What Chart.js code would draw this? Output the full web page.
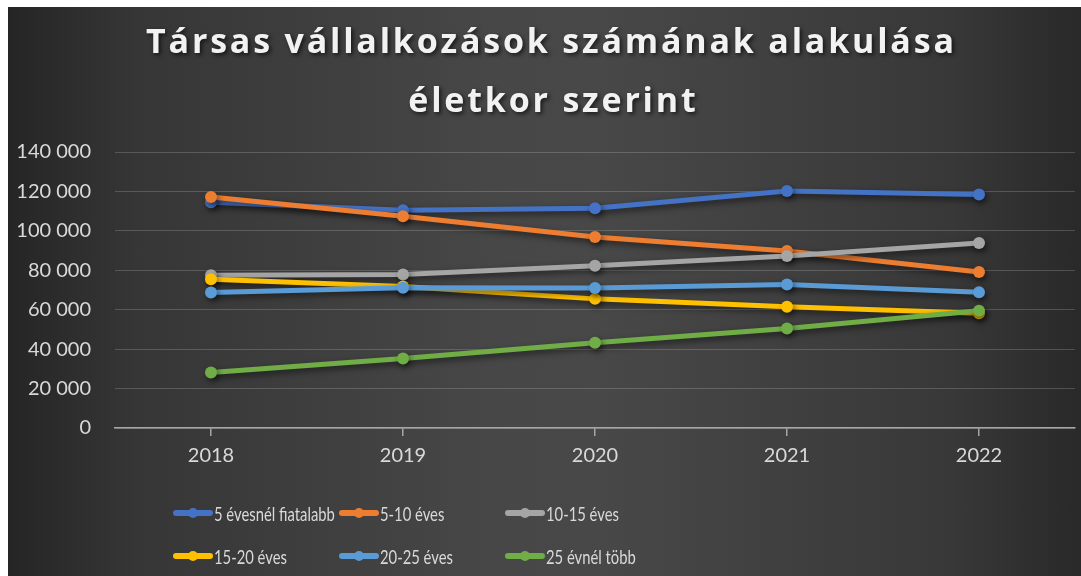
<!DOCTYPE html>
<html>
<head>
<meta charset="utf-8">
<script src="https://cdn.jsdelivr.net/npm/chart.js@4"></script>
<style>
  html, body { margin: 0; padding: 0; background: #fff; }
  #wrap {
    position: absolute; left: 8px; top: 7px; width: 1073px; height: 569px;
    background: linear-gradient(to right, #252525 0%, #363636 12%, #474747 45%, #484848 55%, #383838 88%, #292929 100%);
    overflow: hidden;
  }
  #legend {
    position: absolute; left: 165px; top: 493px;
    display: grid; grid-template-columns: 166px 166px 166px; row-gap: 17px;
    font-family: Lato, "Open Sans", sans-serif; font-size: 20px; color: #d9d9d9;
  }
  .item { display: flex; align-items: center; height: 26px; white-space: nowrap; }
  .mark { position: relative; flex: 0 0 40px; height: 6px; border-radius: 3px; margin-right: 1px; }
  .mark::after {
    content: ""; position: absolute; left: 15px; top: -2px; width: 10px; height: 10px;
    border-radius: 50%; background: inherit;
  }
  .txt { display: inline-block; transform: scaleX(0.74); transform-origin: left center; }
</style>
</head>
<body>
<div id="wrap">
  <canvas id="chart"></canvas>
  <div id="legend"></div>
</div>
<script>
const years = ["2018", "2019", "2020", "2021", "2022"];
const seriesNames = ["5 évesnél fiatalabb", "5-10 éves", "10-15 éves", "15-20 éves", "20-25 éves", "25 évnél több"];
const seriesColors = ["#4472C4", "#ED7D31", "#A5A5A5", "#FFC000", "#5B9BD5", "#70AD47"];

const under5 = [114500, 110500, 111500, 120200, 118500];
const from5to10 = [117200, 107400, 96900, 89800, 79100];
const from10to15 = [77500, 77900, 82300, 87300, 93800];
const from15to20 = [75500, 71800, 65500, 61500, 58200];
const from20to25 = [68700, 71200, 71000, 72800, 68900];
const over25 = [28200, 35300, 43300, 50500, 59500];

const seriesValues = [under5, from5to10, from10to15, from15to20, from20to25, over25];
const titleLines = ["Társas vállalkozások számának alakulása", "életkor szerint"];
const yMax = 140000;
const yStep = 20000;

const axisColor = "#a6a6a6";
const textColor = "#d9d9d9";

function fmt(v) {
    return String(v).replace(/\B(?=(\d{3})+(?!\d))/g, " ");
}

// draw a text line with extra spacing between letters, centred on cx
function spacedText(ctx, text, cx, y, spacing) {
    const chars = Array.from(text);
    const widths = chars.map(c => ctx.measureText(c).width);
    const total = widths.reduce((a, b) => a + b, 0) + spacing * (chars.length - 1);
    let x = cx - total / 2;
    chars.forEach((c, i) => {
        ctx.fillText(c, x, y);
        x += widths[i] + spacing;
    });
}

const shadowPlugin = {
    id: "shadows",
    beforeDatasetDraw(chart) {
        const ctx = chart.ctx;
        ctx.save();
        ctx.shadowColor = "rgba(0,0,0,0.55)";
        ctx.shadowBlur = 6;
        ctx.shadowOffsetX = 2;
        ctx.shadowOffsetY = 3;
    },
    afterDatasetDraw(chart) {
        chart.ctx.restore();
    }
};

// chart title, spaced out like the original
const titlePlugin = {
    id: "spacedTitle",
    afterDraw(chart) {
        const ctx = chart.ctx;
        ctx.save();
        ctx.font = "bold 34px 'Open Sans', sans-serif";
        ctx.fillStyle = "#f2f2f2";
        ctx.textAlign = "left";
        ctx.textBaseline = "alphabetic";
        ctx.shadowColor = "rgba(0,0,0,0.65)";
        ctx.shadowBlur = 4;
        ctx.shadowOffsetX = 2;
        ctx.shadowOffsetY = 2;
        spacedText(ctx, titleLines[0], 542, 46, 2.8);
        spacedText(ctx, titleLines[1], 544, 105, 2.8);
        ctx.restore();
    }
};

const datasets = seriesNames.map((name, i) => ({
    label: name,
    data: seriesValues[i],
    borderColor: seriesColors[i],
    backgroundColor: seriesColors[i],
    pointBackgroundColor: seriesColors[i],
    pointBorderColor: seriesColors[i],
    borderWidth: 5,
    pointRadius: 6,
    pointBorderWidth: 0,
    tension: 0,
    order: seriesNames.length - i
}));

new Chart(document.getElementById("chart"), {
    type: "line",
    data: { labels: years, datasets: datasets },
    options: {
        responsive: true,
        maintainAspectRatio: false,
        animation: false,
        layout: { padding: { left: 0, right: 6, top: 145, bottom: 100 } },
        plugins: {
            legend: { display: false },
            tooltip: { enabled: false },
            title: { display: false }
        },
        scales: {
            x: {
                offset: true,
                border: { display: true, color: axisColor, width: 1.5 },
                grid: { drawOnChartArea: false, drawTicks: true, tickLength: 8, color: axisColor, lineWidth: 1.5 },
                ticks: { color: textColor, font: { family: "Lato, sans-serif", size: 20 }, padding: 8 }
            },
            y: {
                min: 0,
                max: yMax,
                afterFit: (scale) => { scale.width = 107; },
                border: { display: false },
                grid: { drawTicks: false, color: "rgba(217,217,217,0.22)", lineWidth: 1 },
                ticks: {
                    stepSize: yStep,
                    padding: 24,
                    color: textColor,
                    font: { family: "Lato, sans-serif", size: 20 },
                    callback: (v) => fmt(v)
                }
            }
        }
    },
    plugins: [shadowPlugin, titlePlugin]
});

// legend laid out in fixed columns like the original
const legendEl = document.getElementById("legend");
seriesNames.forEach((name, i) => {
    const item = document.createElement("div");
    item.className = "item";
    const mark = document.createElement("span");
    mark.className = "mark";
    mark.style.background = seriesColors[i];
    const label = document.createElement("span");
    label.className = "txt";
    label.textContent = name;
    item.appendChild(mark);
    item.appendChild(label);
    legendEl.appendChild(item);
});
</script>
</body>
</html>
